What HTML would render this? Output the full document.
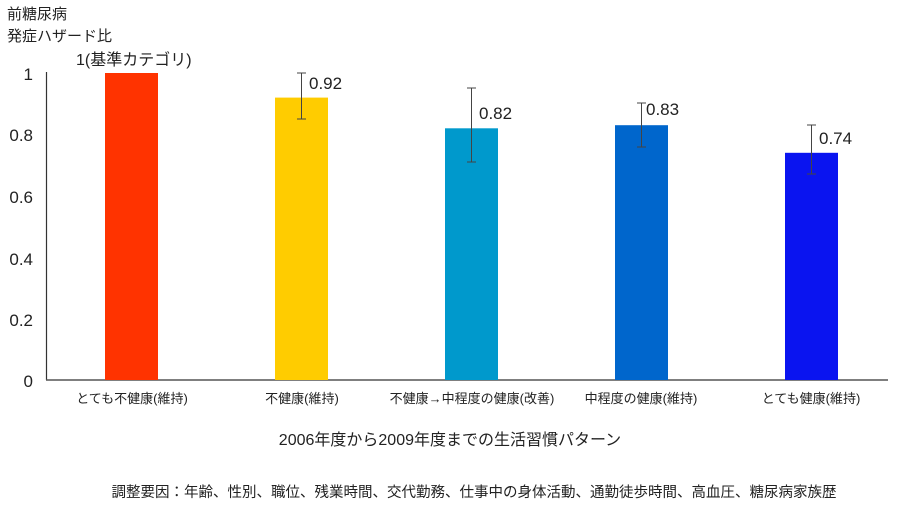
<!DOCTYPE html><html><head><meta charset="utf-8"><style>body{margin:0;background:#fff}svg{display:block}text{font-family:"Liberation Sans","Noto Sans CJK JP",sans-serif;fill:#222}</style></head><body>
<svg width="900" height="506" viewBox="0 0 900 506">
<text x="7" y="19" font-size="15">前糖尿病</text>
<text x="7" y="41" font-size="15">発症ハザード比</text>
<g font-size="17" text-anchor="end"><text x="33" y="80">1</text><text x="33" y="141">0.8</text><text x="33" y="203">0.6</text><text x="33" y="265">0.4</text><text x="33" y="326">0.2</text><text x="33" y="387">0</text></g>
<line x1="46.5" y1="72" x2="46.5" y2="380" stroke="#333" stroke-width="1.2"/>
<line x1="46" y1="380" x2="888" y2="380" stroke="#555" stroke-width="1.5"/>
<rect x="105" y="73" width="53" height="307" fill="#ff3300"/>
<rect x="275" y="97.6" width="53" height="282.4" fill="#ffcc00"/>
<rect x="445" y="128.3" width="53" height="251.7" fill="#0099cc"/>
<rect x="615" y="125.2" width="53" height="254.8" fill="#0066cc"/>
<rect x="785" y="152.8" width="53" height="227.2" fill="#0a14f0"/>
<g stroke="#444" stroke-width="1">
<line x1="301.5" y1="73" x2="301.5" y2="119"/><line x1="297" y1="73" x2="306" y2="73"/><line x1="297" y1="119" x2="306" y2="119"/>
<line x1="471.5" y1="88" x2="471.5" y2="162"/><line x1="467" y1="88" x2="476" y2="88"/><line x1="467" y1="162" x2="476" y2="162"/>
<line x1="641.5" y1="103" x2="641.5" y2="147"/><line x1="637" y1="103" x2="646" y2="103"/><line x1="637" y1="147" x2="646" y2="147"/>
<line x1="811.5" y1="125" x2="811.5" y2="174"/><line x1="807" y1="125" x2="816" y2="125"/><line x1="807" y1="174" x2="816" y2="174"/>
</g>
<text x="76" y="65" font-size="16">1(基準カテゴリ)</text>
<g font-size="17"><text x="309" y="89">0.92</text><text x="479" y="119">0.82</text><text x="646" y="115">0.83</text><text x="819" y="144">0.74</text></g>
<g font-size="13" text-anchor="middle"><text x="132" y="403">とても不健康(維持)</text><text x="302" y="403">不健康(維持)</text><text x="472" y="403">不健康→中程度の健康(改善)</text><text x="641" y="403">中程度の健康(維持)</text><text x="811" y="403">とても健康(維持)</text></g>
<text x="450" y="445" font-size="16" text-anchor="middle">2006年度から2009年度までの生活習慣パターン</text>
<text x="474" y="497" font-size="14.5" text-anchor="middle">調整要因：年齢、性別、職位、残業時間、交代勤務、仕事中の身体活動、通勤徒歩時間、高血圧、糖尿病家族歴</text>
</svg></body></html>
